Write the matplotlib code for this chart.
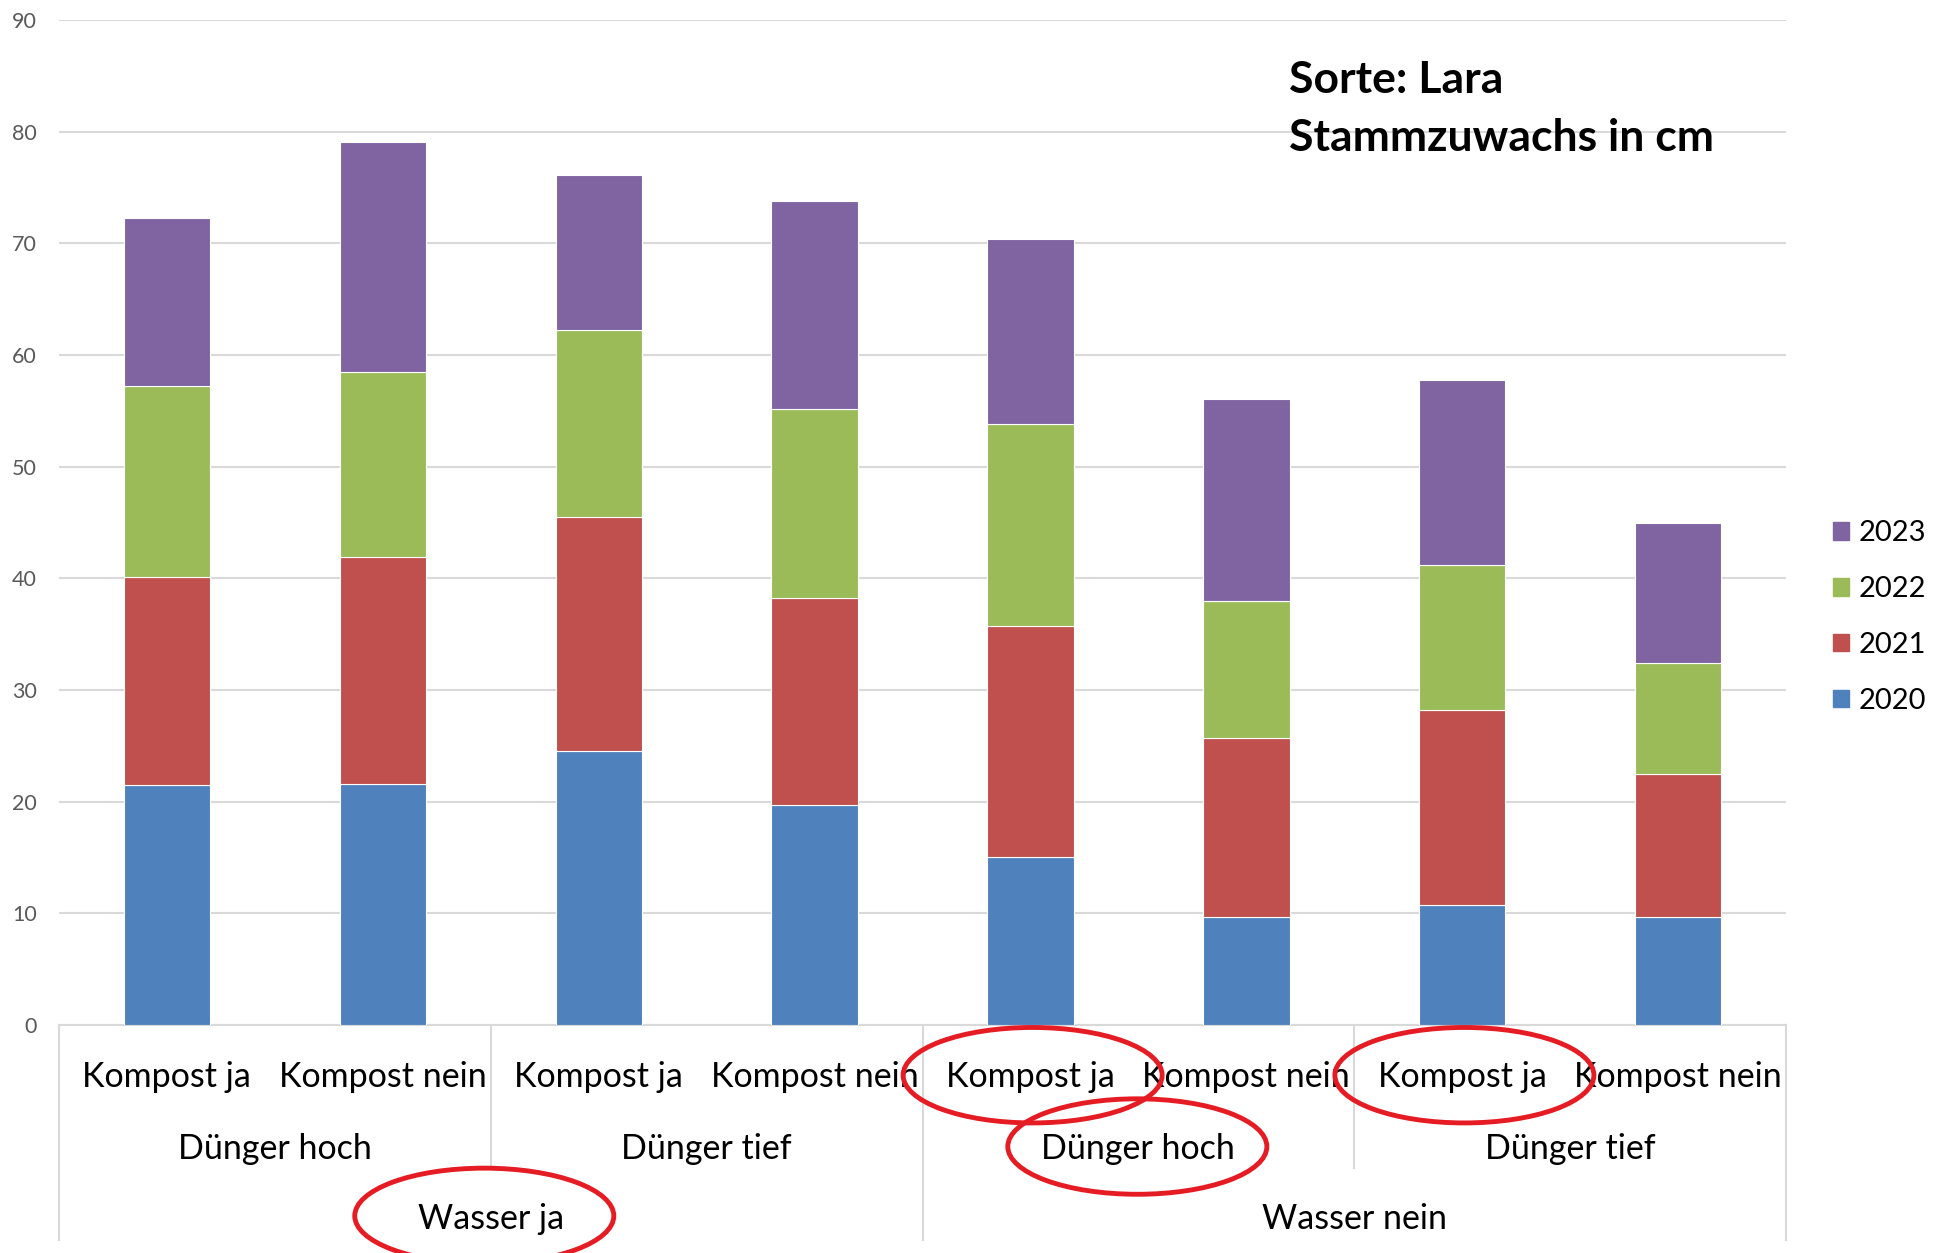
import matplotlib.pyplot as plt
from matplotlib import rcParams
from matplotlib.patches import Ellipse, Patch
from matplotlib.lines import Line2D
import matplotlib.transforms as mtransforms
import numpy as np

# Kategorien (drei Ebenen)
kompost = ['Kompost ja', 'Kompost nein'] * 4
duenger = ['Dünger hoch', 'Dünger tief', 'Dünger hoch', 'Dünger tief']
wasser = ['Wasser ja', 'Wasser nein']

years = ['2020', '2021', '2022', '2023']

# Stammzuwachs in cm pro Jahr
y2020 = [21.5, 21.6, 24.5, 19.7, 15.0, 9.7, 10.7, 9.7]
y2021 = [18.6, 20.3, 21.0, 18.5, 20.7, 16.0, 17.5, 12.8]
y2022 = [17.1, 16.6, 16.7, 17.0, 18.1, 12.3, 13.0, 9.9]
y2023 = [15.1, 20.6, 13.9, 18.6, 16.6, 18.1, 16.6, 12.6]

yticks = list(range(0, 91, 10))

colors = ['#4F81BD', '#C0504D', '#9BBB59', '#8064A2']

rcParams['font.family'] = ['Lato', 'DejaVu Sans']

fig = plt.figure(figsize=(19.34, 12.53), dpi=100)
ax = fig.add_axes([0.0305, 0.182, 0.893, 0.802])

x = np.arange(len(kompost))
bottom = np.zeros(len(kompost))
for vals, c, lab in zip([y2020, y2021, y2022, y2023], colors, years):
    ax.bar(x, vals, width=0.4, bottom=bottom, color=c, edgecolor='white',
           linewidth=0.8, label=lab, zorder=3)
    bottom += np.array(vals)

# Achsen
ax.set_xlim(-0.5, len(kompost) - 0.5)
ax.set_ylim(0, 90)
ax.set_yticks(yticks)
ax.set_yticklabels([str(v) for v in yticks], fontsize=15.5, color='#595959')
ax.tick_params(axis='y', length=0, pad=16)
ax.set_xticks([])
ax.yaxis.grid(True, color='#D9D9D9', linewidth=1.5, zorder=0)
for s in ['top', 'right', 'left']:
    ax.spines[s].set_visible(False)
ax.spines['bottom'].set_color('#D9D9D9')
ax.spines['bottom'].set_linewidth(1.5)

# mehrstufige Kategorie-Beschriftung
trans = mtransforms.blended_transform_factory(ax.transData, ax.transAxes)
for i, k in enumerate(kompost):
    ax.text(i, -0.052, k, transform=trans, ha='center', va='center', fontsize=24.5)
for i, d in enumerate(duenger):
    ax.text(2 * i + 0.5, -0.123, d, transform=trans, ha='center', va='center', fontsize=24.5)
for i, w in enumerate(wasser):
    ax.text(4 * i + 1.5, -0.193, w, transform=trans, ha='center', va='center', fontsize=24.5)

# Trennlinien
for xs, y_end in [(1.5, -0.142), (5.5, -0.142), (-0.5, -0.214), (3.5, -0.214), (7.5, -0.214)]:
    ax.add_line(Line2D([xs, xs], [0, y_end], transform=trans, color='#D9D9D9',
                       linewidth=1.5, clip_on=False))

# rote Markierungen
for cx, cy in [(4.01, -0.050), (4.495, -0.121), (6.01, -0.050), (1.47, -0.190)]:
    ax.add_patch(Ellipse((cx, cy), 1.2, 0.095, transform=trans, fill=False,
                         edgecolor='#E51C23', linewidth=3.5, clip_on=False, zorder=5))

# Titel
fig.text(0.6665, 1 - 80 / 1253, 'Sorte: Lara', fontsize=32, fontweight='bold',
         ha='left', va='center')
fig.text(0.6665, 1 - 138 / 1253, 'Stammzuwachs in cm', fontsize=32, fontweight='bold',
         ha='left', va='center')

# Legende (umgekehrte Reihenfolge)
handles = [Patch(color=c) for c in colors][::-1]
fig.legend(handles, years[::-1], loc='center left', bbox_to_anchor=(0.948, 0.5075),
           frameon=False, fontsize=21, handlelength=0.55, handleheight=0.55,
           handletextpad=0.3, labelspacing=1.02, borderpad=0, borderaxespad=0)

fig.savefig('out.png', dpi=100)
